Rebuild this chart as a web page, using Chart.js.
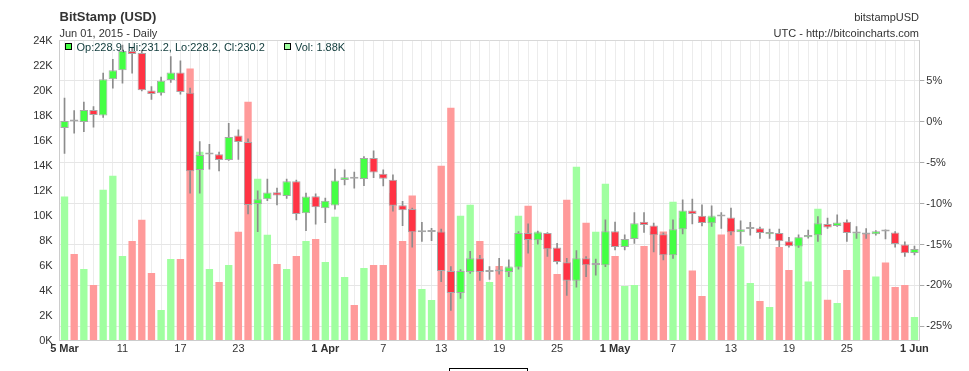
<!DOCTYPE html>
<html><head><meta charset="utf-8">
<script src="https://cdn.jsdelivr.net/npm/chart.js@4.4.1/dist/chart.umd.min.js"></script>
<style>html,body{margin:0;padding:0;background:#fff}#wrap{width:969px;height:371px;position:relative}</style>
</head><body><div id="wrap"><canvas id="c" width="969" height="371"></canvas></div>
<script>
// ---- categories (days, 2015) ----
const dates = [
 '03-05','03-06','03-07','03-08','03-09','03-10','03-11','03-12','03-13','03-14','03-15','03-16','03-17','03-18','03-19','03-20','03-21','03-22','03-23','03-24','03-25','03-26','03-27','03-28','03-29','03-30','03-31',
 '04-01','04-02','04-03','04-04','04-05','04-06','04-07','04-08','04-09','04-10','04-11','04-12','04-13','04-14','04-15','04-16','04-17','04-18','04-19','04-20','04-21','04-22','04-23','04-24','04-25','04-26','04-27','04-28','04-29','04-30',
 '05-01','05-02','05-03','05-04','05-05','05-06','05-07','05-08','05-09','05-10','05-11','05-12','05-13','05-14','05-15','05-16','05-17','05-18','05-19','05-20','05-21','05-22','05-23','05-24','05-25','05-26','05-27','05-28','05-29','05-30','05-31',
 '06-01'];
const tickLabels = {'03-05':'5 Mar','03-11':'11','03-17':'17','03-23':'23','04-01':'1 Apr','04-07':'7','04-13':'13','04-19':'19','04-25':'25','05-01':'1 May','05-07':'7','05-13':'13','05-19':'19','05-25':'25','06-01':'1 Jun'};
const boldTicks = ['03-05','04-01','05-01','06-01'];

// ---- series: daily OHLC in USD ----
const open = [
 270.5,273.1,272.5,276.5,274.7,286.8,289.8,296.2,295.5,283.0,
 282.1,286.5,289.0,282.3,256.5,261.7,261.8,259.9,268.0,265.9,
 245.2,246.8,249.1,247.9,252.8,242.1,247.8,243.8,244.7,253.2,
 254.1,253.5,260.5,255.3,253.3,244.8,243.5,235.8,235.9,236.0,
 222.9,215.5,222.5,227.1,222.5,223.2,222.5,224.0,235.5,233.1,
 235.5,230.7,225.8,219.6,227.1,224.9,224.8,236.1,230.9,233.5,
 239.3,238.0,235.1,228.1,236.8,243.0,241.3,238.8,241.1,240.7,
 235.8,236.9,237.1,235.1,235.5,232.8,231.0,234.1,234.8,238.5,
 237.9,239.3,235.4,235.6,235.1,236.1,235.7,231.7,228.9];
const high = [
 280.5,276.3,279.2,277.7,288.8,293.4,298.2,297.1,296.3,284.3,
 287.5,294.3,292.9,283.8,266.0,265.1,262.5,272.1,269.9,266.9,
 249.6,253.5,250.5,253.5,253.2,248.8,248.6,247.2,256.8,256.6,
 255.8,261.0,262.9,256.6,254.9,246.1,243.8,239.1,237.1,236.8,
 224.3,223.3,229.4,228.1,224.3,227.1,226.6,236.0,238.6,236.2,
 235.7,232.1,227.1,229.7,227.7,226.8,239.9,239.2,234.9,242.3,
 242.3,238.8,235.6,239.9,246.6,246.8,244.9,244.6,242.3,243.8,
 239.6,239.1,237.5,236.8,236.8,234.1,234.9,236.5,241.0,240.5,
 241.6,239.9,237.7,237.0,236.3,236.6,236.0,232.6,231.2];
const low = [
 262.1,268.8,269.3,270.8,274.1,283.8,285.5,288.8,282.9,280.1,
 281.5,285.7,281.8,248.8,248.8,256.8,256.2,259.7,260.1,241.9,
 236.0,246.3,244.9,247.1,239.9,236.3,238.5,239.0,243.5,251.6,
 250.5,251.3,254.0,251.2,242.8,238.0,230.8,232.7,233.0,219.3,
 209.7,213.7,222.1,219.7,220.1,221.8,221.0,223.5,228.8,231.8,
 227.7,225.2,214.7,217.5,221.0,221.5,224.3,229.9,229.9,232.1,
 235.7,229.2,226.6,227.1,235.2,238.6,237.9,237.7,237.1,234.9,
 232.1,234.8,233.7,233.7,231.0,230.8,230.7,233.8,232.7,237.1,
 237.7,232.7,233.7,233.7,234.8,233.6,230.8,227.7,228.2];
const close = [
 272.9,272.7,276.5,274.9,286.8,289.8,296.2,295.2,283.1,281.9,
 286.3,289.0,282.5,256.1,261.5,261.8,259.9,267.5,265.9,244.9,
 246.8,249.0,248.0,252.8,241.9,247.7,244.1,246.3,253.0,254.1,
 253.6,260.5,255.7,253.6,244.6,243.1,235.8,235.9,235.9,222.9,
 215.5,222.9,227.1,222.5,223.2,222.7,224.1,235.5,233.2,235.7,
 230.1,225.9,219.6,227.1,224.8,225.0,236.1,230.9,233.5,238.8,
 238.2,234.8,228.1,236.8,243.0,241.9,238.9,241.0,241.0,235.8,
 236.8,237.0,235.5,235.9,232.8,231.1,234.1,234.9,238.8,237.4,
 239.0,235.5,235.5,235.0,236.1,236.0,231.9,228.8,230.2];
// ---- volume, thousands of BTC ----
const volumeK = [
 11.53,6.93,5.73,4.45,12.06,13.18,6.77,7.97,9.66,5.41,
 2.45,6.53,6.53,21.76,15.11,5.73,4.69,6.05,8.70,19.11,
 12.94,8.46,6.13,5.73,6.77,7.97,8.13,6.29,9.90,5.09,
 2.85,5.81,6.05,6.05,11.80,7.97,11.60,4.13,3.25,13.98,
 18.63,9.98,10.86,7.97,4.69,5.97,5.92,9.98,10.78,8.70,
 8.59,5.33,11.26,13.90,9.42,8.70,12.54,6.77,4.37,4.45,
 7.57,8.72,8.72,11.10,9.80,5.60,3.57,9.98,8.48,9.30,
 7.55,4.61,3.17,2.68,7.49,5.65,8.24,4.72,10.54,3.27,
 3.00,5.65,8.58,8.58,5.12,6.24,4.29,4.45,1.88];

// ---- axes ----
const basePrice = 272.6;          // 0% reference
const priceMin = 199.7, priceMax = 299.7;
const pctTicks = [-25,-20,-15,-10,-5,0,5];
const volMax = 24, volStep = 2;

const FONT = "'Liberation Sans', Arial, Helvetica, sans-serif";
Chart.defaults.font.family = FONT;
Chart.defaults.color = '#333';

const up = close.map((c,i)=>c>=open[i]);
const n = dates.length;

const decor = {
  id:'decor',
  afterDraw(chart){
    const {ctx, chartArea:a} = chart;
    ctx.save();
    ctx.strokeStyle = '#d8d8d8'; ctx.lineWidth = 1;
    ctx.beginPath(); ctx.moveTo(a.left, 40.5); ctx.lineTo(a.right, 40.5); ctx.stroke();
    ctx.fillStyle = '#333';
    ctx.textBaseline = 'alphabetic';
    ctx.textAlign = 'left';
    ctx.font = 'bold 13px ' + FONT;
    ctx.fillText('BitStamp (USD)', 59.5, 20.5);
    ctx.font = '11px ' + FONT;
    ctx.fillText('Jun 01, 2015 - Daily', 59.5, 37);
    ctx.textAlign = 'right';
    ctx.fillText('bitstampUSD', 919, 20.5);
    ctx.fillText('UTC - http://bitcoincharts.com', 919, 37);
    // legend
    ctx.textAlign = 'left';
    ctx.strokeStyle = '#000';
    ctx.fillStyle = '#44ff44'; ctx.fillRect(65.5,43.5,6,6); ctx.strokeRect(65.5,43.5,6,6);
    ctx.fillStyle = '#a0ffa0'; ctx.fillRect(284.5,43.5,6,6); ctx.strokeRect(284.5,43.5,6,6);
    ctx.fillStyle = '#0e3a3a';
    ctx.font = '11px ' + FONT;
    const k = n-1;
    ctx.fillText(`Op:${open[k].toFixed(1)}, Hi:${high[k].toFixed(1)}, Lo:${low[k].toFixed(1)}, Cl:${close[k].toFixed(1)}`, 76.5, 50.5);
    ctx.fillText(`Vol: ${volumeK[k].toFixed(2)}K`, 295, 50.5);
    // navigator stub at bottom
    ctx.strokeStyle = '#000'; ctx.strokeRect(449.5, 368.5, 78, 6);
    ctx.restore();
  }
};

new Chart(document.getElementById('c'), {
  type:'bar',
  data:{labels:dates, datasets:[
    {label:'Vol', data:volumeK, yAxisID:'yv', backgroundColor:up.map(u=>u?'#a0ffa0':'#ff9a9a'),
     barPercentage:0.76, categoryPercentage:1, grouped:false, order:3},
    {label:'wick', data:low.map((l,i)=>[l,high[i]]), yAxisID:'yp', backgroundColor:'#8c8c8c',
     barThickness:1, grouped:false, order:2},
    {label:'body', data:open.map((o,i)=>[o,close[i]]), yAxisID:'yp',
     backgroundColor:up.map(u=>u?'#44ff44':'#ff3344'), borderColor:'#a8a8a8', borderWidth:1,
     borderSkipped:false, minBarLength:2, barPercentage:0.87, categoryPercentage:1, grouped:false, order:1}
  ]},
  options:{
    responsive:false, animation:false, devicePixelRatio:1,
    layout:{padding:{top:40.5,left:0,right:0,bottom:0}},
    plugins:{legend:{display:false}, tooltip:{enabled:false}, title:{display:false}},
    scales:{
      x:{offset:true, grid:{offset:false, color:'#ececec', drawTicks:false}, border:{color:'#cccccc'},
         ticks:{autoSkip:false, maxRotation:0, padding:2, color:'#333',
           font:c=>({size:11, weight: boldTicks.includes(dates[c.index]) ? 'bold' : 'normal'}),
           callback:(v)=>tickLabels[dates[v]] || ''},
         afterFit:s=>{s.height=30.5}},
      yv:{position:'left', min:0, max:volMax,
          ticks:{stepSize:volStep, callback:v=>v+'K', padding:7, font:{size:11}, color:'#333'},
          grid:{drawOnChartArea:false, drawTicks:false}, border:{color:'#cccccc'},
          afterFit:s=>{s.width=59.7}},
      yp:{display:false, min:priceMin, max:priceMax},
      ypct:{position:'right', min:(priceMin/basePrice-1)*100, max:(priceMax/basePrice-1)*100,
          afterBuildTicks:s=>{s.ticks = pctTicks.map(v=>({value:v}));},
          ticks:{callback:v=>v+'%', padding:2, font:{size:11}, color:'#333'},
          grid:{color:'#e6e6e6', tickLength:5, tickColor:'#aaaaaa'}, border:{color:'#cccccc'},
          afterFit:s=>{s.width=49.7}}
    }
  },
  plugins:[decor]
});
</script></body></html>
